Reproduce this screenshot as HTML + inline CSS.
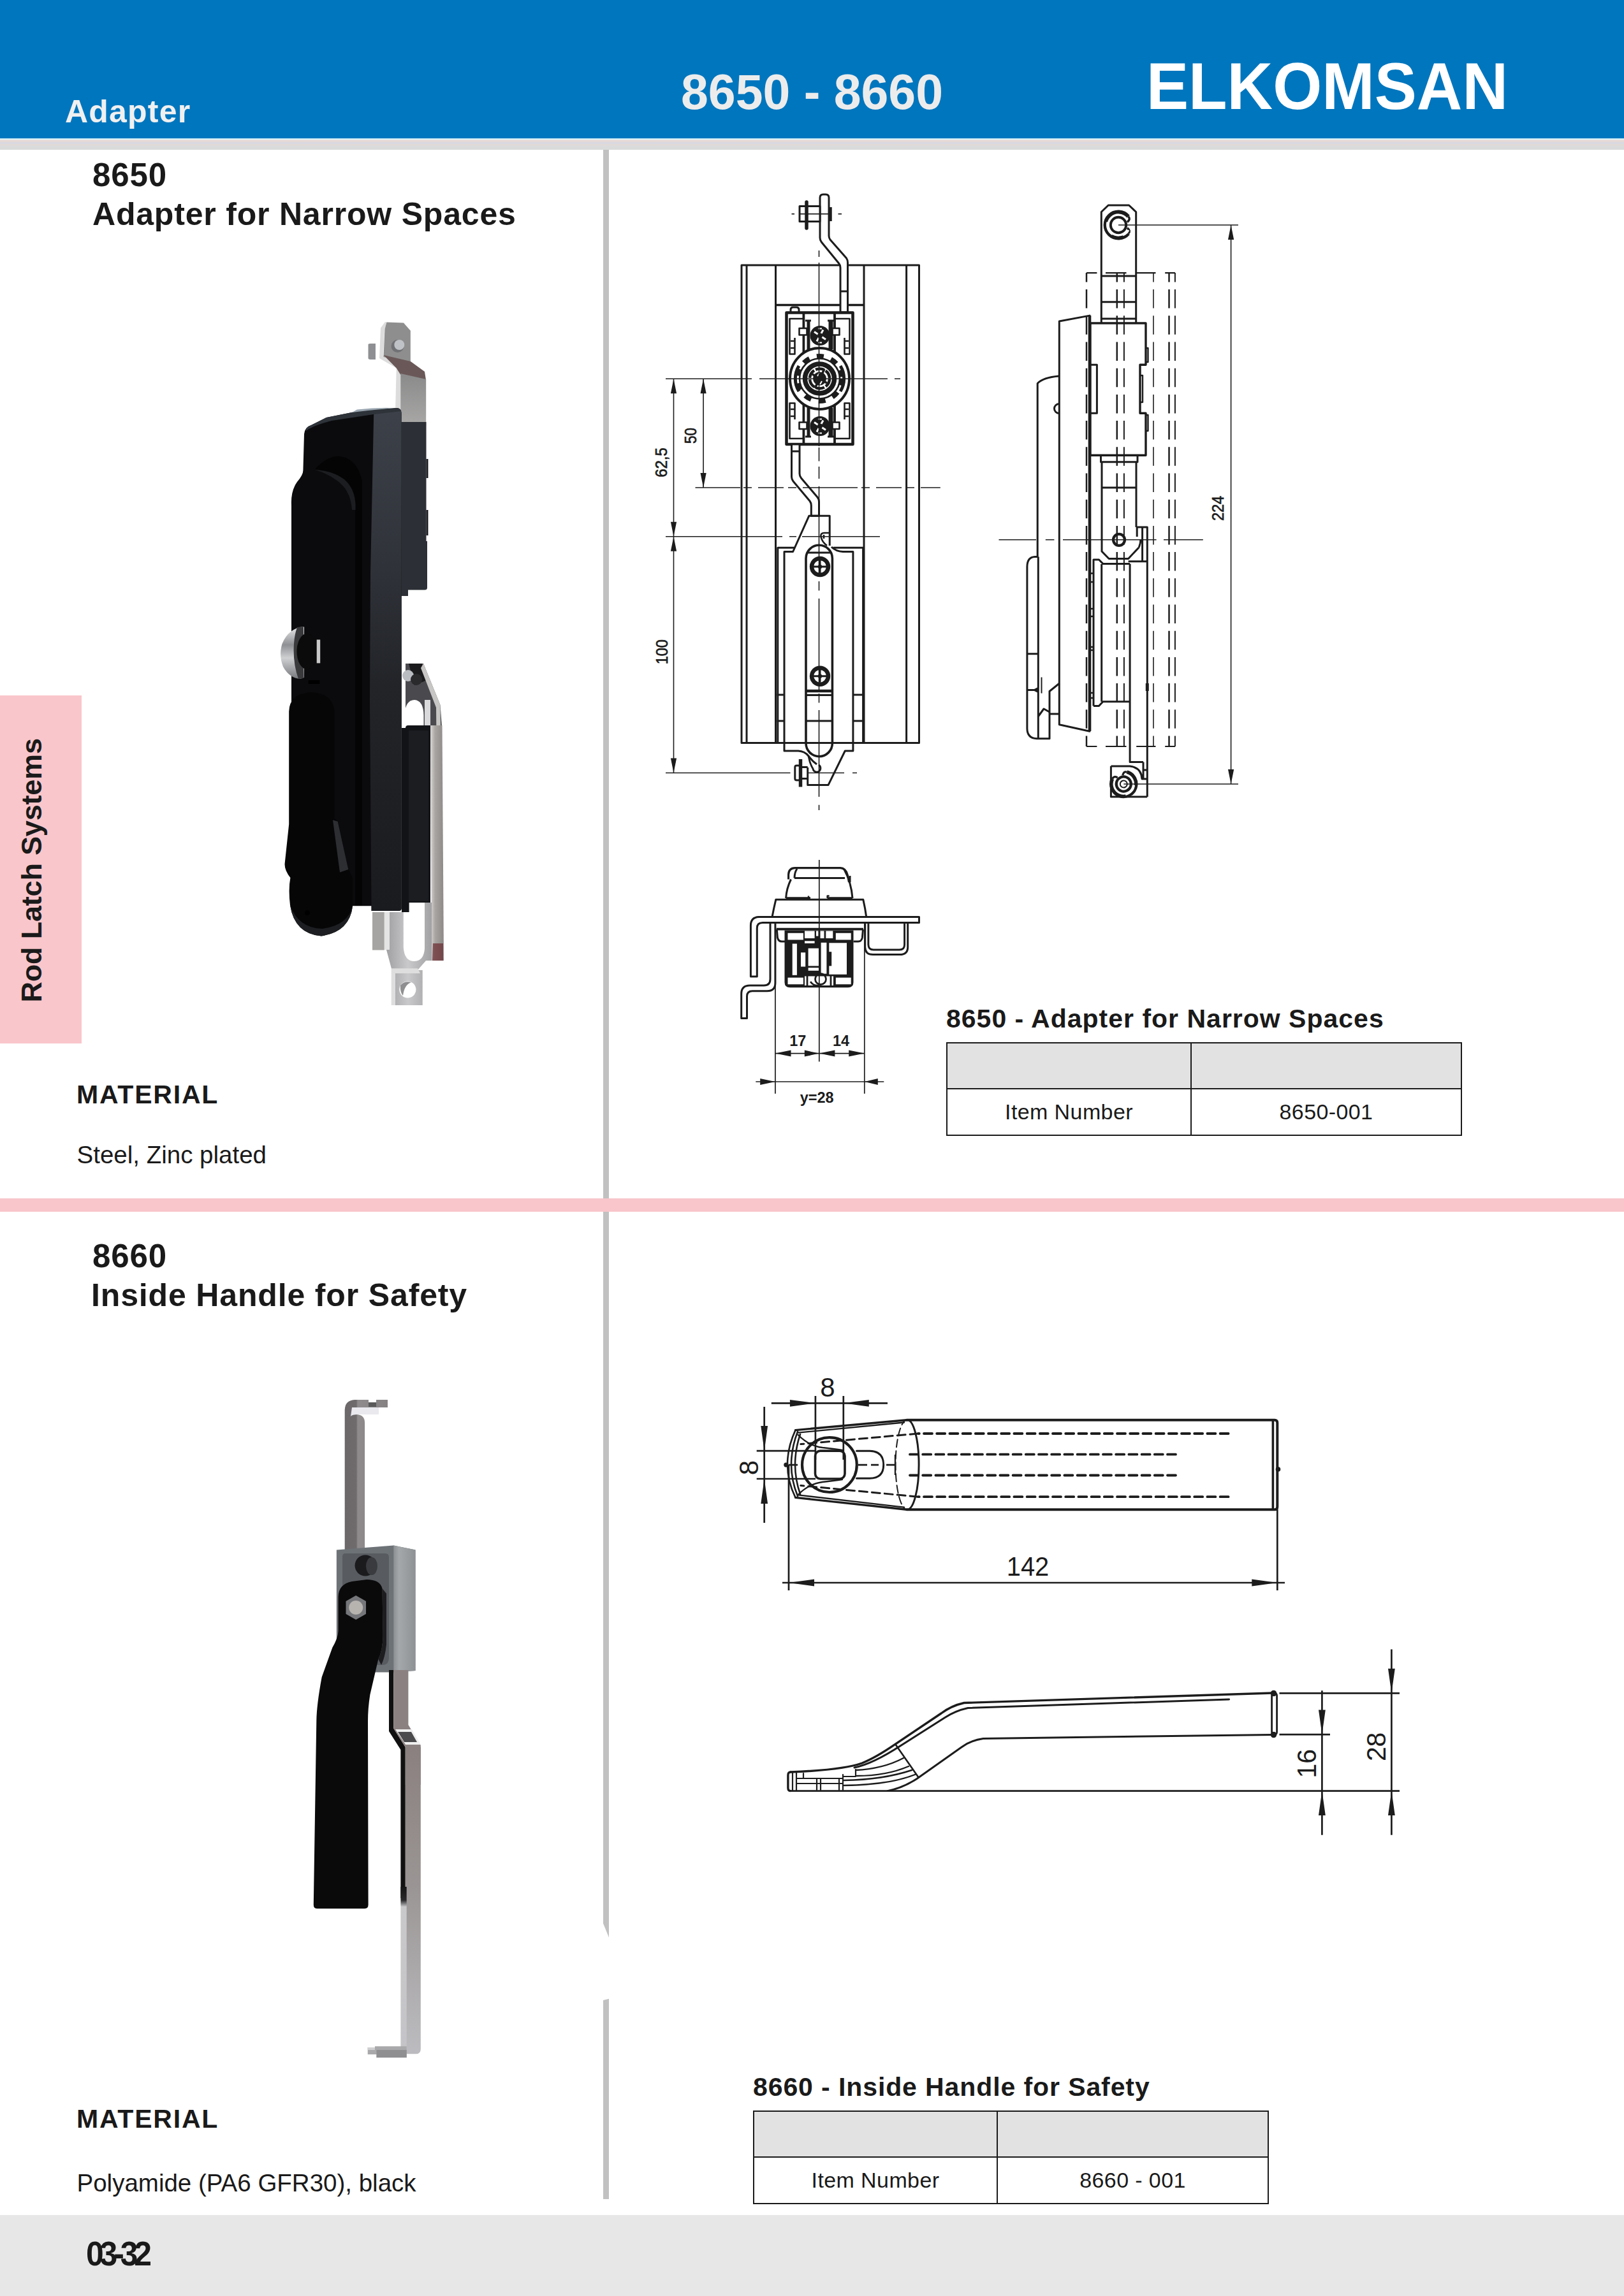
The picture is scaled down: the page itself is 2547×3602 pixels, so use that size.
<!DOCTYPE html>
<html><head><meta charset="utf-8"><title>8650 - 8660</title>
<style>
html,body{margin:0;padding:0;background:#fff}
body{width:2547px;height:3602px;position:relative;overflow:hidden;font-family:"Liberation Sans",Arial,sans-serif;color:#1a1a1a}
.a{position:absolute;white-space:nowrap;line-height:1}
.b{font-weight:bold}
#hdr{left:0;top:0;width:2547px;height:217px;background:#0076be}
#hband{left:0;top:217px;width:2547px;height:18.3px;background:linear-gradient(#bfe6f2 0,#dff3f8 1.6px,#e8d9d5 3px,#e6d9d6 5px,#d5d9e4 7.5px,#e2d9d6 10px,#d9dbdc 12.5px,#dadada 18.3px)}
#div1{left:946.4px;top:235px;width:9px;height:3215px;background:#c1c1c1}
#tab{left:0;top:1091px;width:128px;height:546px;background:#f9c6cb}
#pband{left:0;top:1880px;width:2547px;height:21px;background:#f9c6cb}
#foot{left:0;top:3475px;width:2547px;height:127px;background:#e7e7e7}
table.t{position:absolute;border-collapse:collapse;table-layout:fixed}
table.t td{border:2px solid #1a1a1a;text-align:center;vertical-align:middle;font-size:34px;letter-spacing:.4px;padding:0}
table.t tr.h td{background:#e2e2e2}
svg{position:absolute;overflow:visible}
</style></head><body>
<div class="a" id="hdr"></div>
<div class="a" id="hband"></div>
<div class="a" id="div1"></div>
<svg style="left:940px;top:3000px" width="24" height="146" viewBox="940 3000 24 146"><polygon points="940,3002.8 964,3061.6 964,3133.5 940,3139.6" fill="#fff"/></svg>
<div class="a" id="tab"></div>
<div class="a" id="pband"></div>
<div class="a" id="foot"></div>

<div class="a b" style="left:102px;top:150px;font-size:50px;color:#f0f0f0;letter-spacing:1.2px">Adapter</div>
<div class="a b" style="left:1068px;top:106px;font-size:77px;color:#ececec">8650 - 8660</div>
<div class="a b" style="left:1797.5px;top:84px;font-size:103px;color:#fff;transform-origin:0 50%;transform:scaleX(.962)">ELKOMSAN</div>

<div class="a b" style="left:145px;top:249px;font-size:51px;letter-spacing:.9px">8650</div>
<div class="a b" style="left:145px;top:311px;font-size:50px;letter-spacing:.8px">Adapter for Narrow Spaces</div>
<div class="a b" style="left:145px;top:1945px;font-size:51px;letter-spacing:.9px">8660</div>
<div class="a b" style="left:143px;top:2007px;font-size:50px;letter-spacing:.85px">Inside Handle for Safety</div>

<div class="a b" id="tabtxt" style="left:0;top:0;font-size:45px;letter-spacing:-.2px;transform-origin:0 0;transform:translate(26.5px,1572.5px) rotate(-90deg)">Rod Latch Systems</div>

<div class="a b" style="left:120px;top:1697px;font-size:41px;letter-spacing:1.8px">MATERIAL</div>
<div class="a" style="left:120.5px;top:1793px;font-size:38.5px">Steel, Zinc plated</div>
<div class="a b" style="left:120px;top:3304px;font-size:41px;letter-spacing:1.8px">MATERIAL</div>
<div class="a" style="left:120.5px;top:3405.5px;font-size:38.5px">Polyamide (PA6 GFR30), black</div>

<div class="a b" style="left:135px;top:3509px;font-size:53px;letter-spacing:-6.5px;transform-origin:0 0;transform:scaleX(.94)">03-32</div>

<div class="a b" style="left:1484px;top:1578px;font-size:41px;letter-spacing:1px">8650 - Adapter for Narrow Spaces</div>
<table class="t" style="left:1484px;top:1635px;width:809px;height:147px"><colgroup><col style="width:383px"><col style="width:424px"></colgroup>
<tr class="h" style="height:72px"><td></td><td></td></tr>
<tr style="height:73px"><td>Item Number</td><td>8650-001</td></tr></table>

<div class="a b" style="left:1181px;top:3254px;font-size:41px;letter-spacing:.9px">8660 - Inside Handle for Safety</div>
<table class="t" style="left:1181px;top:3311px;width:809px;height:147px"><colgroup><col style="width:382px"><col style="width:425px"></colgroup>
<tr class="h" style="height:72px"><td></td><td></td></tr>
<tr style="height:73px"><td>Item Number</td><td>8660 - 001</td></tr></table>

<svg style="left:420px;top:490px" width="300" height="1100" viewBox="420 490 300 1100">
<defs>
<linearGradient id="p1a" x1="0" x2="0" y1="0" y2="1"><stop offset="0" stop-color="#3d4149"/><stop offset=".3" stop-color="#30333a"/><stop offset=".55" stop-color="#222428"/><stop offset="1" stop-color="#191b1e"/></linearGradient>
<linearGradient id="p1b" x1="0" x2="1" y1="0" y2="0"><stop offset="0" stop-color="#383b42"/><stop offset="1" stop-color="#2a2d33"/></linearGradient>
<linearGradient id="p1c" x1="0" x2="0" y1="0" y2="1"><stop offset="0" stop-color="#8a8a8a"/><stop offset="1" stop-color="#a9a8a7"/></linearGradient>
<linearGradient id="p1d" x1="0" x2="1" y1="0" y2="0"><stop offset="0" stop-color="#d8d6d4"/><stop offset=".35" stop-color="#a9a5a2"/><stop offset="1" stop-color="#8d8987"/></linearGradient>
<linearGradient id="p1e" x1="0" x2="0" y1="0" y2="1"><stop offset="0" stop-color="#e9e9ea"/><stop offset=".35" stop-color="#8f9094"/><stop offset=".6" stop-color="#cfd0d2"/><stop offset="1" stop-color="#77787c"/></linearGradient>
<linearGradient id="p1f" x1="0" x2="1" y1="0" y2="0"><stop offset="0" stop-color="#9c9c9e"/><stop offset=".5" stop-color="#c9c9cb"/><stop offset="1" stop-color="#a2a2a4"/></linearGradient>
</defs>
<!-- top metal tab -->
<path d="M577.5 541Q577 539 581 539H589V564H581Q577 564 577.5 561Z" fill="#8d8f92"/>
<path d="M604 505L597 514.5L595 562L621.7 577.5L620 646H630V574L601 558L603 517L608 506Z" fill="#dcdcdc"/>
<path d="M606.5 505.5L633 506.6L643.8 518.8V569L601.5 560L603.5 516.5Z" fill="#8e8e8e"/>
<path d="M601.5 557L644 567L666 583L668 596L628.3 588L621.7 577.5Z" fill="#6a5858"/>
<path d="M628.3 586L668.2 595V668H628.3Z" fill="url(#p1c)"/>
<circle cx="623.5" cy="543" r="10" fill="#6f7174"/><circle cx="626.3" cy="541" r="8" fill="#bfc3c8"/>
<!-- side housing -->
<path d="M628 662H668.5V849H670V922Q670 925.5 666 925.5H640V935H628Z" fill="#2c2f35"/>
<path d="M668.5 720h3v30h-3zM668.5 800h3v40h-3z" fill="#1a1b1e"/>
<!-- body -->
<path d="M477 681Q478 670 488 667L512 655L568 643.7L623 640Q629 641 629.7 648V1425Q629.7 1429 625 1429H582.6V1421.3H457V792Q456 770 466 756Q475.4 745 475.4 738Z" fill="#0b0b0d"/>
<path d="M586.3 646L623 640Q629 641 629.7 648V1425Q629.7 1429 625 1429H582.6L580 1100L581 900Z" fill="url(#p1a)"/>
<path d="M488 667L512 655L568 643.7L623 640Q628 640.5 629.3 645L586 650L520 660Q490 668 480 676Q479 670 488 667Z" fill="#2e333a"/>
<path d="M560 642.5Q590 639 618 640L598 642Q575 644 552 647Z" fill="#9aa6b0"/>
<!-- handle upper -->
<path d="M494 736Q512 716 531 715.7Q560 718 567.8 754.5V1421H557V790Q554 752 520 742Q505 737 494 736Z" fill="#040405"/>
<path d="M494 737Q520 738 540 752Q556 766 557.5 790V800H552Q550 770 530 755Q512 742 494 737Z" fill="#1c1d20"/>
<!-- lock cylinder -->
<path d="M476 983Q452 986 442.5 1010Q437 1028 444 1046Q454 1064 471 1065L477 1063V984Z" fill="url(#p1e)"/>
<path d="M466 984L476 983V1064L468 1065Q459 1040 461 1010Q462 995 466 984Z" fill="#3a3a3d"/>
<ellipse cx="481" cy="1022" rx="15.5" ry="28" fill="#0b0b0c"/>
<path d="M496.7 1003.5H502.2V1040.4H496.7Z" fill="#c9c9c9"/>
<rect x="483.7" y="1067" width="17.6" height="6" fill="#000"/>
<!-- paddle -->
<path d="M453.2 1116Q454 1088 488 1086Q522 1088 524.5 1116V1284L530 1288.7L546.3 1364L553 1377V1422Q548 1462 504 1468.5Q462 1465 455 1420Q452 1395 455.4 1377Q446 1365 446.6 1355L453.2 1293Z" fill="#060607"/>
<path d="M522 1286.5L529.7 1288.7L546.3 1364L533 1368.5Z" fill="#2c2e32"/>
<path d="M455 1420Q462 1465 504 1468.5Q548 1462 553 1422Q545 1452 505 1457Q468 1456 455 1420Z" fill="#1d1e21"/>
<circle cx="482" cy="1432" r="4" fill="#000"/>
<!-- adapter mech -->
<path d="M636 1041H664L690.5 1106L693 1140H636Z" fill="#4a4a4e"/>
<path d="M641 1041H662L672 1066L650 1075Z" fill="#1b1b1d"/>
<circle cx="640" cy="1060" r="9" fill="#b9bcc0"/><circle cx="653" cy="1066" r="9" fill="#2a2a2c"/>
<path d="M664 1041L690.5 1106L693 1300H686L684 1110L660 1048Z" fill="#c8c6c4"/>
<path d="M634 1142V1122Q636 1098 650 1098Q664 1099 664.5 1122V1142Z" fill="#fff"/>
<rect x="666" y="1098" width="9" height="42" fill="#d9d9dc"/>
<!-- black box -->
<path d="M636 1142Q636 1138 640 1138H675V1416H641.6V1431H630V1142Z" fill="#121316"/>
<path d="M641 1146H672V1414H641Z" fill="#1b1d21"/>
<!-- silver strip -->
<path d="M675 1138H693.5L696 1507H677Z" fill="url(#p1d)"/>
<path d="M679 1480h16v27h-17z" fill="#6a2a30" opacity=".7"/>
<!-- lower bracket -->
<path d="M584 1431H602.8V1490.4H584Z" fill="#a6a4a2"/>
<path d="M602.8 1431H632.8V1486Q634 1508 650 1508Q665 1507 666 1488V1416H677V1507H668L655 1522H662.7V1577H613.9V1519.2L606 1490H602.8Z" fill="url(#p1f)"/>
<path d="M602.8 1431H611V1490H602.8Z" fill="#e4e4e4"/>
<path d="M613.9 1519.2H655L659 1527H620V1577H613.9Z" fill="#dedede"/>
<circle cx="639.4" cy="1552.5" r="13" fill="#fff"/><path d="M628 1546Q634 1538 645 1541Q634 1545 632 1562Q627 1556 628 1546Z" fill="#8f8f91"/>
</svg>

<svg style="left:480px;top:2180px" width="200" height="1060" viewBox="480 2180 200 1060">
<defs>
<linearGradient id="q1" x1="0" x2="1" y1="0" y2="0"><stop offset="0" stop-color="#6c686a"/><stop offset=".27" stop-color="#6f6b6d"/><stop offset=".3" stop-color="#8f8b8c"/><stop offset="1" stop-color="#858182"/></linearGradient>
<linearGradient id="q2" x1="0" x2="0" y1="0" y2="1"><stop offset="0" stop-color="#8a807f"/><stop offset=".45" stop-color="#9a9594"/><stop offset="1" stop-color="#bcbcc0"/></linearGradient>
<linearGradient id="q3" x1="0" x2="1" y1="0" y2="0"><stop offset="0" stop-color="#8c9092"/><stop offset=".25" stop-color="#a4a8aa"/><stop offset="1" stop-color="#8e9294"/></linearGradient>
<linearGradient id="q4" x1="0" x2="0" y1="0" y2="1"><stop offset="0" stop-color="#141414"/><stop offset=".08" stop-color="#2a2a2c"/><stop offset=".12" stop-color="#c9c9cb"/><stop offset="1" stop-color="#c4c4c8"/></linearGradient>
</defs>
<!-- upper rod with hook -->
<path d="M540.7 2212Q541 2197 556 2196H578V2200H590V2196H608V2208H594V2219H560Q572 2220 572.1 2232V2432H540.7Z" fill="url(#q1)"/>
<path d="M552 2208H594V2219H562Q552 2219 550 2222Z" fill="#e9e9ee"/>
<path d="M578 2200H590V2207H578Z" fill="#5a5a5a"/>
<!-- block -->
<path d="M527.8 2431.4L617.3 2424.5L651.5 2431.5V2621L617.3 2623.5H527.8Z" fill="#6d7277"/>
<path d="M617.3 2424.5L651.5 2431.5V2621L617.3 2623.5Z" fill="url(#q3)"/>
<path d="M537 2442Q537 2437 542 2437H604Q610 2437 610 2443V2600Q610 2612 600 2612H537Z" fill="#585c61"/>
<circle cx="573" cy="2456" r="16.5" fill="#1b1b1d"/><ellipse cx="583" cy="2457" rx="9" ry="14" fill="#3a3b3e"/>
<!-- lower rod upper segment -->
<path d="M610 2620H617.3V2711.4L635.8 2741V2978H628.4V2745L610 2716Z" fill="#101010"/>
<path d="M617.3 2620H640.4V2706L659.8 2738V2800H635.8V2741L617.3 2711.4Z" fill="#8b8180"/>
<path d="M620 2713L646 2713L660 2737L636 2737Z" fill="#efefef"/>
<path d="M624 2717L645 2717L654 2733L634 2733Z" fill="#4b4b4d"/>
<path d="M635.8 2741H659.8V3214Q660 3222.3 652 3222.3H635.8Z" fill="url(#q2)"/>
<path d="M628.4 2960H637.7V3222H628.4Z" fill="url(#q4)"/>
<path d="M576.7 3212H588V3210.3H637.7V3228H590.5V3223H576.7Z" fill="#a9a9ab"/>
<path d="M590.5 3216H637.7V3228H590.5Z" fill="#8f8f92"/>
<path d="M576.7 3212H588V3216H576.7Z" fill="#cfcfd1"/>
<!-- black handle -->
<path d="M530.5 2505Q531 2485 552 2481L575 2478Q596 2478 599.5 2492L600.7 2566Q600 2590 593.3 2603L580.4 2658.6Q577 2680 577 2700L577.6 2988Q577.6 2994.2 572 2994.2H497Q491.7 2994.2 491.8 2988L496.3 2700Q496.5 2675 504.7 2631L521.3 2584.7Q530 2570 530.5 2559Z" fill="#0a0a0b"/>
<path d="M599.5 2492L606 2500V2580Q604 2600 598 2612L593.3 2603Q600 2590 600.7 2566Z" fill="#1d1d1f"/>
<!-- hex bolt -->
<path d="M558.2 2503L574 2512V2532L558.2 2541L542.5 2532V2512Z" fill="#75777a"/>
<circle cx="558.2" cy="2522" r="11" fill="#b7b4b0"/>
</svg>

<svg style="left:1000px;top:290px" width="500" height="1000" viewBox="1000 290 500 1000">
<defs>
<g id="scr"><circle r="13" fill="#fff" stroke="#1c1c1c" stroke-width="6.5"/><path d="M-10 0H10M0 -10V10" stroke="#1c1c1c" stroke-width="3"/><circle r="3.2" fill="#1c1c1c"/></g>
<g id="scr2"><circle r="15.5" fill="#1c1c1c"/><path d="M-9 -6L9 6M-5 9L5 -9" stroke="#fff" stroke-width="3"/><path d="M-3 -11L3 -11M-3 11L3 11" stroke="#fff" stroke-width="2"/><circle r="4" fill="#1c1c1c"/></g>
<path id="ar" d="M0 0L-4.6 23H4.6Z" fill="#1c1c1c"/>
</defs>
<g fill="none" stroke="#1c1c1c" stroke-width="3" stroke-linejoin="round">
<!-- outer profile -->
<rect x="1163" y="416" width="278.5" height="749.5"/>
<path d="M1171 416V1165M1421.6 416V1165M1216.5 416V1165M1355 416V1165"/>
<path d="M1215 478.4H1355" stroke-width="3.5"/>
<!-- upper rod -->
<path d="M1286 310Q1286 305 1291 305H1295Q1300 305 1300 310V370Q1300 373 1302 376L1327.5 405Q1329.5 408 1329.5 412V490H1318V420Q1318 416 1315.5 413L1288.5 380Q1286 377 1286 373Z" fill="#fff"/>
<path d="M1318 457H1329.5"/>
<!-- top bolt -->
<rect x="1254" y="323.5" width="32" height="24" fill="#fff"/>
<path d="M1265 317V358" stroke-width="5.5" stroke-linecap="round"/>
<path d="M1302.5 325V347" stroke-width="4.5"/>
<!-- housing -->
<path d="M1240 490V486Q1240 482 1244 482H1249Q1253 482 1253 486V490" />
<rect x="1233.5" y="490.5" width="104" height="206.5" fill="#fff" stroke-width="4.6"/>
<path d="M1260.4 490V697M1309 490V697" stroke-width="3.8"/>
<path d="M1259 500H1238.5V555.5H1246.5V530M1310 500H1332.5V555.5H1324.5V530M1259 688H1238.5V632.5H1246.5V658M1310 688H1332.5V632.5H1324.5V658" stroke-width="2.6"/>
<path d="M1240 535h6M1240 546h6M1325 535h6M1325 546h6M1240 642h6M1240 653h6M1325 642h6M1325 653h6" stroke-width="2.4"/>
<path d="M1268 503V548M1268 640V685" stroke-width="5"/>
<path d="M1303 503V548M1303 640V685" stroke-width="7"/>
<path d="M1263 503H1272M1298 503H1308M1263 685H1272M1298 685H1308" stroke-width="3"/>
<rect x="1253.5" y="515" width="12" height="10.5" fill="#fff" stroke-width="2.6"/>
<rect x="1305.5" y="515" width="11" height="10.5" fill="#fff" stroke-width="2.6"/>
<rect x="1253.5" y="662.5" width="12" height="10.5" fill="#fff" stroke-width="2.6"/>
<rect x="1305.5" y="662.5" width="11" height="10.5" fill="#fff" stroke-width="2.6"/>
<!-- big circle -->
<ellipse cx="1285.5" cy="594" rx="46.5" ry="48" fill="#fff" stroke-width="4"/>
<circle cx="1285.5" cy="594" r="35.5" stroke-width="7" stroke-dasharray="11 12.2"/>
<circle cx="1285.5" cy="594" r="31.5" stroke-width="2.6"/>
<path d="M1253 574A38 38 0 0 0 1253 614M1318 574A38 38 0 0 1 1318 614" stroke-width="5"/>
<circle cx="1285.5" cy="594" r="23" stroke-width="7.5" fill="#fff"/>
<circle cx="1285.5" cy="594" r="15.5" stroke-width="4.5" stroke-dasharray="14 2.5"/>
<circle cx="1285.5" cy="594" r="8" stroke-width="5" fill="#1c1c1c"/>
<path d="M1278 609L1293 579M1274 587L1297 601" stroke-width="3.6"/><path d="M1282 590l3 -5M1289 598l-3 5" stroke="#fff" stroke-width="2"/>
</g>
<use href="#scr2" x="1286" y="526.5"/><use href="#scr2" x="1286" y="668.5"/>
<g fill="none" stroke="#1c1c1c" stroke-width="3" stroke-linejoin="round">
<!-- lower rod -->
<path d="M1241.5 697V748Q1241.5 752 1244 755L1270 786Q1272.3 789 1272.3 793V809.3H1284.5V787Q1284.5 783 1282 780L1256.5 750Q1254 747 1254 743V697Z" fill="#fff"/>
<path d="M1241.5 708H1254"/>
<!-- body -->
<path d="M1219.8 1165V859.2H1246M1307 859.2H1353.6V1165"/>
<path d="M1301.2 856V809.3H1268.8L1243.6 865.5H1230V1178H1252Q1262 1178.5 1268 1186Q1274 1194 1281 1199M1304 858Q1311 865 1322 865.5H1337.9V1178H1325.3L1299.1 1231.4H1266.7V1204"/>
<path d="M1218.5 1090H1230M1218.5 1131H1230M1338 1090H1353.6M1338 1131H1353.6"/>
<!-- slot -->
<path d="M1264 876A20.7 20.7 0 0 1 1305.4 876V1166A20.7 20.7 0 0 1 1264 1166Z" fill="#fff" stroke-width="3.6"/>
<path d="M1267 867H1303"/>
<path d="M1264 1084H1305.4" stroke-width="4.5"/>
<path d="M1264 1090.5H1305.4M1264 1131H1305.4M1264 1165.4H1305.4"/>
<!-- hooks -->
<path d="M1301 836H1293Q1286.5 836 1287.5 842Q1289 850 1297 856" stroke-width="2.6"/>
<path d="M1292 839v6" stroke-width="2.6"/>
<path d="M1268 1186Q1270 1198 1275 1206A6 6 0 1 0 1284 1200" stroke-width="2.8"/>
<!-- bottom bolt -->
<rect x="1246.8" y="1201" width="8" height="23" rx="2.5" fill="#fff"/>
<path d="M1255.5 1191V1234.5" stroke-width="5.5"/>
<path d="M1258 1203.5H1266.7M1258 1221.5H1266.7"/>
</g>
<use href="#scr" x="1286" y="889"/><use href="#scr" x="1286" y="1060.7"/>
<!-- thin lines -->
<g fill="none" stroke="#1c1c1c" stroke-width="1.6">
<path d="M1241.5 335.6H1246M1253 335.6H1304M1314.5 335.6H1320"/>
<path d="M1284.5 393V403M1284.5 412V700M1284.5 702V723.5M1284.5 732V751M1284.5 763V905M1284.5 912V926.6M1284.5 939V1084M1284.5 1088V1102.6M1284.5 1114V1250M1284.5 1262.8V1271"/>
<path d="M1044 594.3H1179M1191 594.3H1392M1403 594.3H1412"/>
<path d="M1090.5 765H1161M1166 765H1179M1189 765H1229M1236 765H1249M1259 765H1345M1351 765H1364M1374 765H1414M1421 765H1434M1444 765H1474.8"/>
<path d="M1044 841.7H1227M1238 841.7H1249M1258 841.7H1380"/>
<path d="M1044 1212.5H1239.5M1266.7 1212.5H1324M1337 1212.5H1344"/>
<path d="M1056.5 594.3V1212.5M1103.1 594.3V765"/>
</g>
<use href="#ar" x="1056.5" y="594.3"/><use href="#ar" x="1103.1" y="594.3"/>
<use href="#ar" transform="translate(1056.5 841.7) scale(1 -1)"/><use href="#ar" x="1056.5" y="841.7"/>
<use href="#ar" transform="translate(1103.1 765) scale(1 -1)"/>
<use href="#ar" transform="translate(1056.5 1212.5) scale(1 -1)"/>
<g font-family="Liberation Sans, Arial, sans-serif" font-size="26" fill="#1c1c1c" stroke="#1c1c1c" stroke-width=".7" text-anchor="middle">
<text transform="translate(1045.5 725.5) rotate(-90) scale(.92 1)">62,5</text>
<text transform="translate(1091.5 683.5) rotate(-90) scale(.86 1)">50</text>
<text transform="translate(1047 1022.8) rotate(-90) scale(.9 1)">100</text>
</g>
</svg>

<svg style="left:1540px;top:300px" width="440" height="980" viewBox="1540 300 440 980">
<g fill="none" stroke="#1c1c1c" stroke-width="3" stroke-linejoin="round">
<!-- top flat bar -->
<path d="M1727.3 507V332.5L1738.2 322H1770.6L1781.7 332.5V507" fill="#fff"/>
<path d="M1727.3 433H1781.7M1727.3 473.8H1781.7M1727.3 500H1781.7"/>
<!-- clip top -->
<g transform="translate(1754 353) scale(1.16)"><path d="M13.5 -11.5A17.7 17.7 0 1 0 13.5 11.5" stroke-width="5"/><path d="M13.5 -11.5Q17 -8 12 -4M13.5 11.5Q17 8 12 4" stroke-width="3"/><path d="M-15 -4A15.5 15.5 0 0 0 -8 13M6 14A15.5 15.5 0 0 0 14 7" stroke="#fff" stroke-width="2"/><circle r="10.5" fill="#fff" stroke-width="3.4"/></g>
<!-- handle plate -->
<path d="M1661.3 1136.8V504L1708.9 495.1V1147.3Z" fill="#fff"/>
<path d="M1709 495V1147" stroke-width="4.6"/>
<!-- outer handle -->
<path d="M1661 590Q1636 592 1627.2 601.5V873.4"/>
<path d="M1661 633.5A7.5 7.5 0 0 0 1661 648.5" />
<path d="M1628.3 873.4H1623Q1611 874 1610.9 889V1143Q1611 1158 1626 1158.8H1646V1084.5L1661.5 1072"/>
<path d="M1628.3 873.4V1158.8M1610.9 1025.8H1627M1610.9 1082.4H1628.3M1646 1120H1661.5M1628.3 1124L1637 1112L1646 1117"/>
<path d="M1633.5 1062.5V1087.6" stroke-width="2"/>
<path d="M1619 1082.4L1628 1078V1087Z" fill="#1c1c1c" stroke="none"/>
<!-- block -->
<path d="M1710 507H1797V572.2H1788V648.3H1797V714.2H1710Z" fill="#fff" stroke-width="3.4"/>
<path d="M1710 572.2H1720.4V648.3H1710"/>
<path d="M1798 546h2.5v22h-2.5M1789 589h3v42h-3M1798 651h2.5v25h-2.5" stroke-width="2.4"/>
<!-- lower bar -->
<path d="M1726.5 714.2V724.7H1784V714.2M1728 724.7V865L1739.2 876.5H1769.6L1786.3 858.7M1782 724.7V827" />
<path d="M1728 764.9H1782"/>
<circle cx="1755" cy="846.8" r="9" stroke-width="4.2"/>
<path d="M1783.2 842V827H1799.3V1250M1791.6 828V880.7M1769.6 880.7H1799.3M1786.3 858.7Q1789 852 1789 846"/>
<!-- escutcheon -->
<path d="M1715 1107.5V878H1723.5L1729.8 884.4H1772M1715 1107.5H1723.5L1729.8 1100.8H1772.1M1727.7 884.9V1100.8M1772.1 884.4V1195.4H1793"/>
<path d="M1709 899.5h6M1709 913h6M1709 955h6M1709 967h6M1709 1015h6M1709 1020h6M1709 1087h6M1709 1095h6" stroke-width="2.4"/>
<path d="M1799.3 1072v12" stroke-width="5"/>
<!-- bottom clip box -->
<path d="M1742.4 1202.1H1772Q1790 1204 1791 1222H1799.3M1742.4 1202.1V1249.9H1799.3M1793 1195.4V1222M1793 1208H1799" />
<g transform="translate(1762.3 1230) rotate(-115) scale(1.1)"><path d="M13.5 -11.5A17.7 17.7 0 1 0 13.5 11.5" stroke-width="5"/><path d="M13.5 -11.5Q17 -8 12 -4M13.5 11.5Q17 8 12 4" stroke-width="3"/><path d="M-15 -4A15.5 15.5 0 0 0 -8 13" stroke="#fff" stroke-width="2"/><circle r="10.5" fill="#fff" stroke-width="3.8"/><circle r="5" stroke-width="1.8"/></g>
</g>
<!-- hidden dashed -->
<g fill="none" stroke="#1c1c1c" stroke-width="2.2" stroke-dasharray="29.5 11.7" stroke-dashoffset="15.1">
<path d="M1704 428V1171M1751.8 428V1171M1833.5 428V1171" stroke-width="2.5"/><path d="M1762.9 428V1171M1842.9 428V1171" stroke-width="2"/><path d="M1809 428V1171" stroke-width="1.6"/>
</g>
<g fill="none" stroke="#1c1c1c" stroke-width="2.2">
<path d="M1704 428.1H1720.4M1734 428.1H1766.5M1782.2 428.1H1812.5M1827.2 428.1H1842.9M1704 1171H1720.4M1734 1171H1766.5M1782.2 1171H1812.5M1827.2 1171H1842.9"/>
</g>
<g fill="none" stroke="#1c1c1c" stroke-width="1.6">
<path d="M1566.5 846.8H1625M1639.8 846.8H1653.4M1667 846.8H1813.6M1825 846.8H1886.8"/>
<path d="M1754 353H1942M1762.3 1230H1942M1930.6 353V1230"/>
</g>
<path d="M1930.6 353L1926 376H1935.2Z" fill="#1c1c1c"/><path d="M1930.6 1230L1926 1207H1935.2Z" fill="#1c1c1c"/>
<text transform="translate(1918.5 797.5) rotate(-90) scale(.9 1)" font-family="Liberation Sans, Arial, sans-serif" font-size="26" fill="#1c1c1c" stroke="#1c1c1c" stroke-width=".7" text-anchor="middle">224</text>
</svg>

<svg style="left:1140px;top:1340px" width="320" height="420" viewBox="1140 1340 320 420">
<g fill="none" stroke="#1c1c1c" stroke-width="3" stroke-linejoin="round">
<!-- handle cap -->
<path d="M1236.6 1379.5V1372Q1237 1362 1247 1361.7H1318Q1326 1362 1329 1372Q1331 1378 1331.5 1384" stroke-width="3.2"/>
<path d="M1250 1363Q1246 1369 1246 1377.4M1246 1377.4H1325M1333 1374V1384" />
<path d="M1240.5 1379.5Q1233.5 1394 1232.6 1409M1324 1364Q1335 1384 1337 1409" />
<path d="M1232.6 1409H1271M1297.6 1409H1337" stroke-width="3.6"/>
<path d="M1268 1405.5v3.5h3M1297.6 1409v-3.5h3" stroke-width="2.4"/>
<!-- escutcheon base -->
<path d="M1211 1438.5Q1213.5 1425 1216.8 1411.3H1353.8Q1357 1425 1358.7 1438.5" />
<!-- panel -->
<path d="M1441.5 1438.5H1190Q1177.4 1439 1177.4 1452V1532.1H1187.3V1456Q1187.3 1447.4 1196 1447.4H1441.5Z" fill="#fff"/>
<!-- right channel -->
<path d="M1356.7 1447.4V1486Q1357 1497.6 1369 1497.6H1411Q1423.7 1497.6 1423.7 1486V1447.4M1361.9 1447.4V1482Q1362 1490 1370 1490H1410.5Q1418.6 1490 1418.6 1482V1447.4"/>
<!-- z bracket -->
<path d="M1208 1447.4V1536Q1208 1546 1198 1546H1176Q1162.7 1546 1162.7 1559V1597.6H1171.5V1563Q1171.5 1554.8 1180 1554.8H1203Q1215.9 1554.8 1215.9 1542" />
<path d="M1215.9 1447.4V1542"/>
<!-- underside flange -->
<path d="M1217.7 1457.7H1354" stroke-width="3.8"/>
<path d="M1218.3 1458L1219.4 1471Q1221 1477 1226 1477H1232M1353.5 1458L1352.4 1471Q1351 1477 1346 1477H1338.5" />
</g>
<!-- lock body -->
<path d="M1230.5 1459.4H1338.5V1541Q1338.5 1549.2 1330 1549.2H1239Q1230.5 1549.2 1230.5 1541Z" fill="#1c1c1c"/>
<g fill="#fff">
<rect x="1235.5" y="1463.8" width="24.4" height="10.6"/><rect x="1310.8" y="1463.8" width="23.9" height="10.6"/>
<rect x="1262" y="1460.5" width="15.6" height="11.5"/><rect x="1295.3" y="1460.5" width="11" height="11.5"/>
<rect x="1280" y="1460.5" width="3.4" height="8"/><rect x="1286.5" y="1460.5" width="6" height="11.5"/>
<rect x="1262" y="1476.3" width="15.6" height="3.6"/>
<rect x="1242.7" y="1480.5" width="7.2" height="49.3"/>
<rect x="1300.3" y="1479.3" width="27.7" height="49.4"/>
<rect x="1287.6" y="1478.8" width="8.8" height="48.8"/>
<rect x="1267.6" y="1487.7" width="16.6" height="27.7"/>
<rect x="1256" y="1494.3" width="7.2" height="22.2"/>
<rect x="1267.6" y="1518.2" width="16.6" height="4.6"/>
<rect x="1235.5" y="1533.7" width="24.4" height="10.5"/><rect x="1310.8" y="1533.7" width="23.9" height="10.5"/>
<rect x="1262" y="1531.5" width="45" height="14.5"/>
</g>
<rect x="1297.5" y="1493.2" width="6.7" height="22.2" fill="#1c1c1c"/>
<g fill="none" stroke="#1c1c1c" stroke-width="2.8">
<circle cx="1287" cy="1536" r="8.5"/><path d="M1266 1531V1546M1303 1531V1546M1271 1540Q1276 1547 1284 1546"/>
</g>
<g fill="none" stroke="#1c1c1c" stroke-width="1.7">
<path d="M1284.8 1349V1665.4M1215.9 1447V1715.7M1355.8 1447V1715.7"/>
<path d="M1215.9 1652.6H1355.8M1185.3 1697H1386.3"/>
</g>
<g fill="#1c1c1c">
<path d="M1215.9 1652.6l24.6 -5v10zM1284.8 1652.6l-23 -5v10zM1284.8 1652.6l24.6 -5v10zM1355.8 1652.6l-24.6 -5v10z"/>
<path d="M1215.9 1697l-23.7 -5v10zM1355.8 1697l21 -5v10z"/>
</g>
<g font-family="Liberation Sans, Arial, sans-serif" font-weight="bold" font-size="23.5" fill="#1c1c1c" text-anchor="middle">
<text x="1251.3" y="1640.8">17</text><text x="1319" y="1640.8">14</text><text x="1281.2" y="1729.9">y=28</text>
</g>
</svg>

<svg style="left:1140px;top:2140px" width="900" height="380" viewBox="1140 2140 900 380">
<g fill="none" stroke="#1c1c1c" stroke-width="3" stroke-linejoin="round" stroke-linecap="round">
<!-- cylinder -->
<path d="M1422 2227.8H1999Q2003.3 2228 2003.3 2232V2364Q2003.3 2368.3 1999 2368.3H1422" stroke-width="4"/>
<path d="M1996.4 2229V2367" stroke-width="3.6"/>
<!-- head -->
<path d="M1247.5 2243.6L1422 2227.8M1247.5 2349.4L1422 2368.3" stroke-width="3.4"/>
<path d="M1252 2247.6L1418 2231.5M1252 2345.4L1418 2364.6" stroke-width="2.4"/>
<path d="M1247.5 2243.6Q1222.5 2298 1247.5 2349.4M1251 2246Q1231 2298 1251 2347M1255 2250Q1239 2298 1255 2344" stroke-width="2.6"/>
<path d="M1251.7 2251Q1268 2268 1290 2271Q1308 2273 1321 2275M1251.7 2345Q1268 2328 1290 2325Q1308 2323 1321 2321" stroke-width="2.4"/>
<!-- ellipse -->
<path d="M1422.8 2227.5A18.3 70.4 0 0 1 1422.8 2368.3" stroke-width="3"/>
<path d="M1422.8 2227.5A18.3 70.4 0 0 0 1422.8 2368.3" stroke-width="2" stroke-dasharray="12 6"/>
<!-- circle, square, slot -->
<circle cx="1300.9" cy="2298.1" r="42.9" stroke-width="4.2"/>
<rect x="1278.5" y="2276.1" width="46.5" height="43.9" rx="8" stroke-width="3.6"/>
<path d="M1343.5 2276.3H1364Q1385.7 2277 1385.7 2298Q1385.7 2319 1364 2319.3H1343.5" stroke-width="3"/>
</g>
<circle cx="1232.8" cy="2298.1" r="3.6" fill="#1c1c1c"/><circle cx="2004.5" cy="2305" r="3.8" fill="#1c1c1c"/>
<!-- dashed -->
<g fill="none" stroke="#1c1c1c" stroke-width="3.8" stroke-linecap="round" stroke-dasharray="13 7.2">
<path d="M1926.6 2249H1440M1844 2281.7H1423.4M1844 2314.5H1423.4M1926.6 2348.2H1440"/>
</g>
<g fill="none" stroke="#1c1c1c" stroke-width="3" stroke-linecap="round" stroke-dasharray="13 7">
<path d="M1440 2249L1255.8 2265.6M1440 2348.2L1255.8 2330.5"/>
</g>
<path d="M1237 2298.1H1258M1346 2298.1H1378M1390 2298.1H1405" fill="none" stroke="#1c1c1c" stroke-width="2.6" stroke-dasharray="14 6"/>
<path d="M1404 2282V2314" fill="none" stroke="#1c1c1c" stroke-width="2.4"/>
<!-- dims -->
<g fill="none" stroke="#1c1c1c" stroke-width="2.7">
<path d="M1209.8 2201.3H1392M1278.9 2190V2290M1322.8 2190V2290"/>
<path d="M1198.7 2207V2389M1186.7 2276.1H1279M1186.7 2320H1279"/>
<path d="M1237 2298V2495M2003.3 2368V2495M1227 2483H2015"/>
</g>
<g fill="#1c1c1c">
<path d="M1278.9 2201.3l-40 -5.4v10.8zM1322.8 2201.3l40 -5.4v10.8z"/>
<path d="M1198.7 2276.1l-5.4 -39h10.8zM1198.7 2320l-5.4 39h10.8z"/>
<path d="M1237 2483l40 -5.4v10.8zM2003.3 2483l-40 -5.4v10.8z"/>
</g>
<g font-family="Liberation Sans, Arial, sans-serif" font-size="42" fill="#1c1c1c" text-anchor="middle">
<text x="1298" y="2191.3">8</text>
<text transform="translate(1188.7 2302.5) rotate(-90)">8</text>
<text transform="translate(1612 2471.7) scale(.95 1)">142</text>
</g>
</svg>

<svg style="left:1220px;top:2570px" width="1000" height="320" viewBox="1220 2570 1000 320">
<g fill="none" stroke="#1c1c1c" stroke-width="3" stroke-linejoin="round" stroke-linecap="round">
<path d="M1240 2780C1290 2778 1330 2774 1352 2766C1372 2758 1390 2746 1404 2736.4L1476 2688Q1492 2676 1512 2671.5L1996 2656" stroke-width="3.4"/>
<path d="M1340 2773C1365 2768 1392 2752 1412 2739L1482 2694.5Q1498 2684 1518 2679.5L1927.6 2666" stroke-width="3"/>
<path d="M1392 2809.6C1410 2806 1425 2799 1438 2790.5L1508 2741Q1522 2730.5 1542 2727.5L1996 2721.4" stroke-width="3"/>
<path d="M1240 2780Q1235.9 2780 1235.9 2785V2805Q1235.9 2809.6 1240 2809.6" stroke-width="3.4"/>
<path d="M1243 2781V2809M1249 2781V2809M1249 2790H1322M1249 2798H1322M1260 2782V2790H1268M1281 2790V2808M1287 2790V2808M1316 2790V2808M1322 2784V2808M1342 2776V2787H1322" stroke-width="2.2"/>
<path d="M1342 2777Q1385 2775 1417 2758M1344 2786Q1390 2786 1425 2771M1324 2801Q1395 2800 1435 2784M1324 2793Q1385 2792 1430 2777" stroke-width="2.4"/>
<path d="M1405.2 2737.7L1440.2 2788" stroke-width="2.6"/>
<rect x="1994.6" y="2655.9" width="8" height="65.6" rx="4" stroke-width="2.8"/>
</g>
<circle cx="1997.5" cy="2656.5" r="4.8" fill="#1c1c1c"/><circle cx="1997.5" cy="2721.5" r="4.8" fill="#1c1c1c"/>
<g fill="none" stroke="#1c1c1c" stroke-width="2.7">
<path d="M1238 2809.6H2195M2006.5 2656.3H2195M2006.5 2721.1H2086"/>
<path d="M2073.4 2652.2V2878.7M2182.4 2587.5V2878.7"/>
</g>
<g fill="#1c1c1c">
<path d="M2073.4 2721.1l-5.4 -38.5h10.8zM2073.4 2809.6l-5.4 38.5h10.8zM2182.4 2656.3l-5.4 -38.5h10.8zM2182.4 2809.6l-5.4 38.5h10.8z"/>
</g>
<g font-family="Liberation Sans, Arial, sans-serif" font-size="43" fill="#1c1c1c" text-anchor="middle">
<text transform="translate(2064.1 2766.7) rotate(-90) scale(.95 1)">16</text>
<text transform="translate(2173.1 2740.4) rotate(-90) scale(.95 1)">28</text>
</g>
</svg>

</body></html>
